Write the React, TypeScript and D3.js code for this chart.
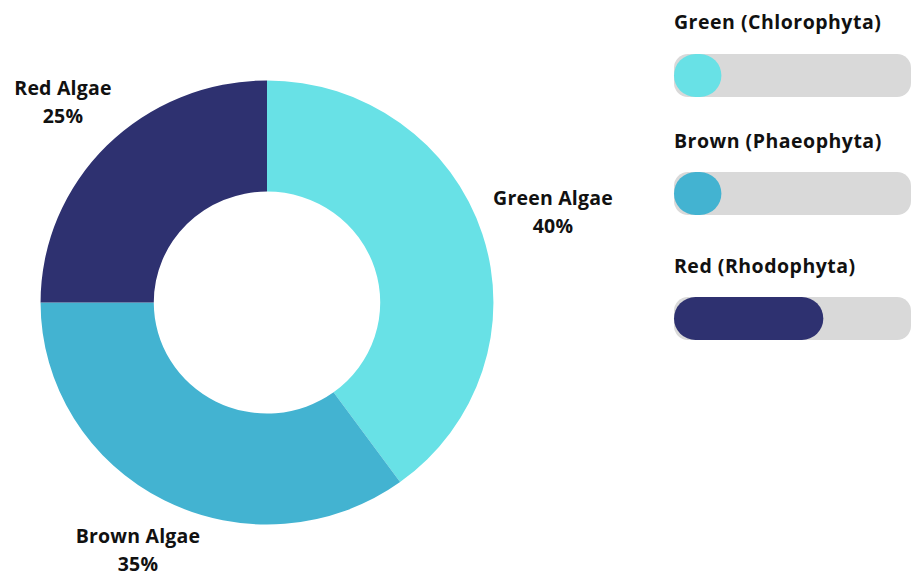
import React from "react";
import * as d3 from "d3";

const categories = ["Green Algae", "Brown Algae", "Red Algae"];
const shares = [40, 35, 25];
const colors = ["#68E1E6", "#43B3D1", "#2E3170"];
const barLabels = ["Green (Chlorophyta)", "Brown (Phaeophyta)", "Red (Rhodophyta)"];
const barValues = [20, 20, 63];

const W = 912;
const H = 577;
const FONT = "'Open Sans', Lato, sans-serif";

export default function App() {
  const cx = 267;
  const cy = 302.5;
  const outerR = 222;
  const innerR = 111;

  const pie = d3.pie<number>().sort(null).value((d) => d);
  const arcs = pie(shares);
  const arcGen = d3.arc<d3.PieArcDatum<number>>().innerRadius(innerR).outerRadius(outerR);

  const labelPos = [
    { x: 553, y: 205 },
    { x: 138, y: 543 },
    { x: 63, y: 95 },
  ];

  const trackX = 674;
  const trackW = 237;
  const barH = 43;
  const x = d3.scaleLinear().domain([0, 100]).range([0, trackW]);
  const barY = d3.scaleOrdinal<string, number>().domain(barLabels).range([54, 172, 297]);
  const titleY = d3.scaleOrdinal<string, number>().domain(barLabels).range([29, 148, 273]);

  return (
    <div style={{ position: "absolute", left: 0, top: 0, width: W, height: H, background: "#fff" }}>
      <svg width={W} height={H} style={{ display: "block" }}>
        <g transform={`translate(${cx},${cy}) scale(1.02,1)`}>
          {arcs.map((a, i) => (
            <path key={categories[i]} d={arcGen(a) || ""} fill={colors[i]} />
          ))}
        </g>
        {categories.map((c, i) => (
          <text
            key={c}
            x={labelPos[i].x}
            y={labelPos[i].y}
            textAnchor="middle"
            fontFamily={FONT}
            fontWeight={700}
            fontSize={19.5}
            letterSpacing={0.2}
            fill="#111"
          >
            <tspan x={labelPos[i].x}>{c}</tspan>
            <tspan x={labelPos[i].x} dy={28}>{shares[i]}%</tspan>
          </text>
        ))}
        {barLabels.map((b, i) => (
          <g key={b}>
            <text
              x={trackX}
              y={titleY(b)}
              fontFamily={FONT}
              fontWeight={700}
              fontSize={19.5}
              letterSpacing={0.5}
              fill="#111"
            >
              {b}
            </text>
            <rect x={trackX} y={barY(b)} width={trackW} height={barH} rx={14} ry={14} fill="#D9D9D9" />
            <rect
              x={trackX}
              y={barY(b)}
              width={Math.max(x(barValues[i]), barH)}
              height={barH}
              rx={barH / 2}
              ry={barH / 2}
              fill={colors[i]}
            />
          </g>
        ))}
      </svg>
    </div>
  );
}
